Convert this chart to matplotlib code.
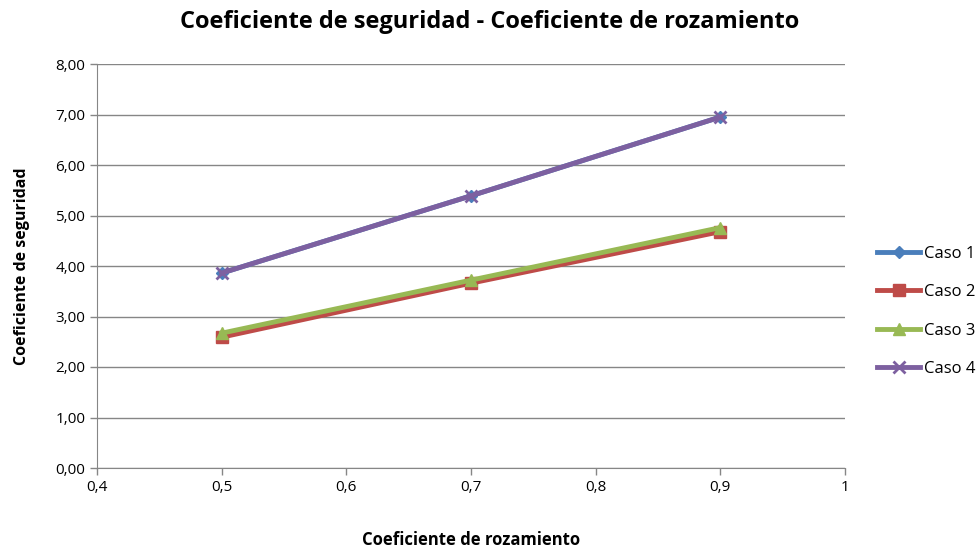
import matplotlib.pyplot as plt
from matplotlib.ticker import FuncFormatter

plt.rcParams['font.family'] = ['Open Sans', 'DejaVu Sans']

rozamiento = [0.5, 0.7, 0.9]
caso1 = [3.86, 5.39, 6.95]
caso2 = [2.59, 3.66, 4.68]
caso3 = [2.67, 3.72, 4.76]
caso4 = [3.86, 5.39, 6.95]

series = [
    ('Caso 1', caso1, '#4A7EBB', 'D', 6),
    ('Caso 2', caso2, '#BE4B48', 's', 8),
    ('Caso 3', caso3, '#98B954', '^', 8),
    ('Caso 4', caso4, '#7D60A0', 'x', 8),
]

fig = plt.figure(figsize=(9.8, 5.48), dpi=100)
ax = fig.add_axes([97 / 980, 80 / 548, 748 / 980, 404 / 548])

for name, vals, color, marker, ms in series:
    ax.plot(rozamiento, vals, color=color, lw=3.5, marker=marker,
            markersize=ms, markeredgewidth=2 if marker == 'x' else 1,
            markeredgecolor=color, label=name)

ax.set_xlim(0.4, 1.0)
ax.set_ylim(0, 8)
ax.set_xticks([0.4, 0.5, 0.6, 0.7, 0.8, 0.9, 1.0])
ax.set_yticks(range(0, 9))
comma = FuncFormatter(lambda v, p: ('%g' % round(v, 1)).replace('.', ','))
ax.xaxis.set_major_formatter(comma)
ax.yaxis.set_major_formatter(
    FuncFormatter(lambda v, p: ('%.2f' % v).replace('.', ',')))
ax.tick_params(labelsize=11, color='#868686', length=5, width=1)
ax.grid(axis='y', color='#868686', lw=1)
ax.set_axisbelow(True)
for s in ['top', 'right']:
    ax.spines[s].set_visible(False)
for s in ['left', 'bottom']:
    ax.spines[s].set_color('#868686')

ax.set_xlabel('Coeficiente de rozamiento', fontsize=12, fontweight='bold',
              labelpad=26)
ax.set_ylabel('Coeficiente de seguridad', fontsize=11.5, fontweight='bold',
              labelpad=18)
fig.text(0.5, 0.96, 'Coeficiente de seguridad - Coeficiente de rozamiento',
         ha='center', va='center', fontsize=17, fontweight='bold')

fig.legend(loc='center left', bbox_to_anchor=(862 / 980, 0.432),
           frameon=False, fontsize=12, handlelength=2.6, labelspacing=1.35,
           handletextpad=0.2)

fig.savefig('out.png', dpi=100)
